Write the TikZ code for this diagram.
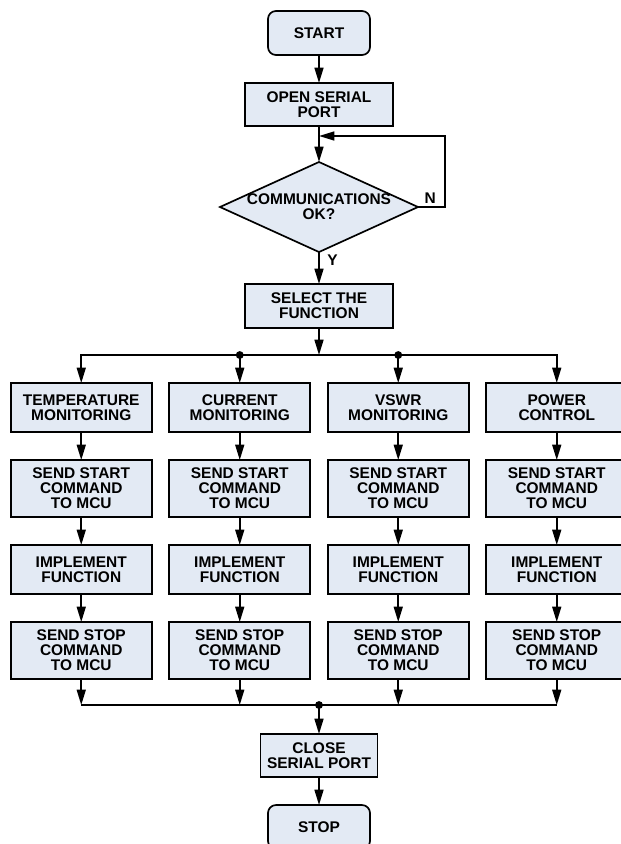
\documentclass[tikz,border=0pt]{standalone}
\usepackage{fontspec}
\setmainfont{Liberation Sans}
\usetikzlibrary{positioning}
\usetikzlibrary{shapes.geometric}
\usetikzlibrary{arrows.meta}
\definecolor{boxfill}{RGB}{227,234,244}
\tikzstyle{process} = [draw=black, line width=1.2pt, fill=boxfill, align=center,
inner sep=2pt, outer sep=0pt, font=\fontsize{11}{10.7}\selectfont\bfseries]
\tikzstyle{terminal} = [process, rounded corners=0.2cm, minimum width=2.55cm,
minimum height=1.1cm]
\tikzstyle{wide} = [process, minimum width=3.7cm, minimum height=1.1cm]
\tikzstyle{func} = [process, minimum width=3.525cm, minimum height=1.225cm]
\tikzstyle{cmd} = [func, minimum height=1.425cm]
\tikzstyle{decision} = [process, diamond, inner xsep=-1cm, inner ysep=0pt,
minimum width=4.95cm, minimum height=2.25cm]
\tikzstyle{flow} = [line width=1.2pt, -{Triangle[length=11pt,width=6.4pt]}]
\tikzstyle{yn} = [inner sep=0pt, font=\fontsize{11}{11}\selectfont\bfseries]

\begin{document}
\begin{tikzpicture}
  \useasboundingbox (-7.975,0.825) rectangle (7.525,-20.275);

  % start up and link check
  \node[terminal] (start) at (0,0) {START};
  \node[wide, below=0.7cm of start, minimum height=1.075cm] (open) {OPEN SERIAL\\PORT};
  \node[decision, below=0.9cm of open] (comm) {COMMUNICATIONS\\OK?};
  \node[wide, below=0.8cm of comm] (select) {SELECT THE\\FUNCTION};
  \coordinate[below=0.25cm of open] (retry);
  \coordinate[below=0.675cm of select] (fork);
  \node[yn, above right=0.09cm and 0.16cm of comm.east] (no) {N};
  \node[yn, below right=0.06cm and 0.2cm of comm.south] (yes) {Y};

  % the four functions
  \node[func, below=1.375cm of select, xshift=-5.94375cm] (temp) {TEMPERATURE\\MONITORING};
  \node[func, right=0.4375cm of temp] (cur) {CURRENT\\MONITORING};
  \node[func, right=0.4375cm of cur] (vswr) {VSWR\\MONITORING};
  \node[func, right=0.4375cm of vswr] (power) {POWER\\CONTROL};

  \node[cmd, below=0.7cm of temp] (tstart) {SEND START\\COMMAND\\TO MCU};
  \node[func, below=0.7cm of tstart] (timpl) {IMPLEMENT\\FUNCTION};
  \node[cmd, below=0.7cm of timpl] (tstop) {SEND STOP\\COMMAND\\TO MCU};

  \node[cmd, below=0.7cm of cur] (cstart) {SEND START\\COMMAND\\TO MCU};
  \node[func, below=0.7cm of cstart] (cimpl) {IMPLEMENT\\FUNCTION};
  \node[cmd, below=0.7cm of cimpl] (cstop) {SEND STOP\\COMMAND\\TO MCU};

  \node[cmd, below=0.7cm of vswr] (vstart) {SEND START\\COMMAND\\TO MCU};
  \node[func, below=0.7cm of vstart] (vimpl) {IMPLEMENT\\FUNCTION};
  \node[cmd, below=0.7cm of vimpl] (vstop) {SEND STOP\\COMMAND\\TO MCU};

  \node[cmd, below=0.7cm of power] (pstart) {SEND START\\COMMAND\\TO MCU};
  \node[func, below=0.7cm of pstart] (pimpl) {IMPLEMENT\\FUNCTION};
  \node[cmd, below=0.7cm of pimpl] (pstop) {SEND STOP\\COMMAND\\TO MCU};

  % shut down
  \coordinate[below=0.65cm of tstop] (tjoin);
  \coordinate (join) at (start |- tjoin);
  \node[wide, below=0.725cm of join, minimum width=2.925cm, minimum height=1.075cm] (close) {CLOSE\\SERIAL PORT};
  \node[terminal, below=0.7cm of close] (stop) {STOP};

  % connectors
  \draw[flow] (start) -- (open);
  \draw[flow] (open) -- (comm);
  \draw[flow] (comm.east) -- ++(0.675,0) |- (retry);
  \draw[flow] (comm) -- (select);
  \draw[flow] (select) -- (fork);
  \draw[flow] (fork) -| (temp);
  \draw[flow] (fork) -| (power);
  \draw[flow] (fork -| cur) -- (cur);
  \draw[flow] (fork -| vswr) -- (vswr);
  \fill (fork -| cur) circle (2.8pt);
  \fill (fork -| vswr) circle (2.8pt);

  \draw[flow] (temp) -- (tstart);
  \draw[flow] (tstart) -- (timpl);
  \draw[flow] (timpl) -- (tstop);
  \draw[flow] (cur) -- (cstart);
  \draw[flow] (cstart) -- (cimpl);
  \draw[flow] (cimpl) -- (cstop);
  \draw[flow] (vswr) -- (vstart);
  \draw[flow] (vstart) -- (vimpl);
  \draw[flow] (vimpl) -- (vstop);
  \draw[flow] (power) -- (pstart);
  \draw[flow] (pstart) -- (pimpl);
  \draw[flow] (pimpl) -- (pstop);

  \draw[flow] (tstop) -- (tjoin);
  \draw[flow] (cstop) -- (cstop |- tjoin);
  \draw[flow] (vstop) -- (vstop |- tjoin);
  \draw[flow] (pstop) -- (pstop |- tjoin);
  \draw[line width=1.2pt] (tjoin) -- (pstop |- tjoin);
  \fill (join) circle (2.8pt);
  \draw[flow] (join) -- (close);
  \draw[flow] (close) -- (stop);
\end{tikzpicture}
\end{document}
